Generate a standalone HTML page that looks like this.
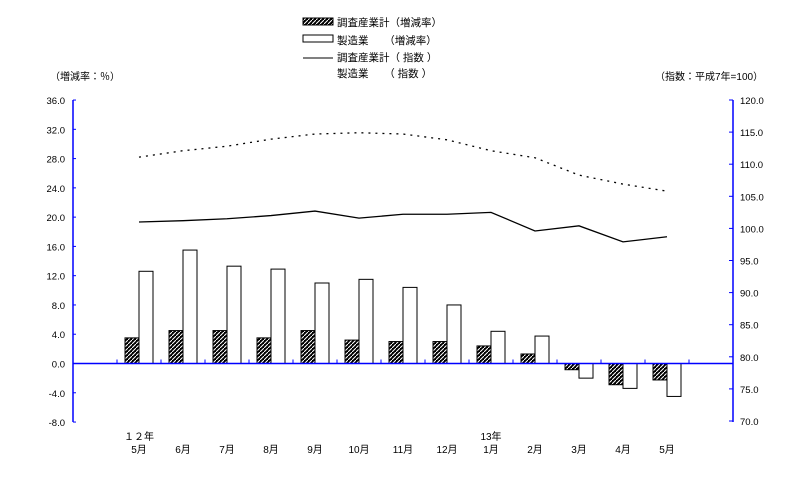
<!DOCTYPE html>
<html><head><meta charset="utf-8">
<style>
body{margin:0;background:#fff;}
svg text{font-family:"Liberation Sans","Noto Sans CJK JP",sans-serif;fill:#000;}
</style></head>
<body>
<svg width="797" height="486" viewBox="0 0 797 486" xmlns="http://www.w3.org/2000/svg">
<defs>
<pattern id="hatch" patternUnits="userSpaceOnUse" width="4" height="4">
<rect width="4" height="4" fill="#000"/>
<path d="M-1,5 L5,-1" stroke="#fff" stroke-width="1"/>
</pattern>
</defs>
<g id="legend" font-size="10.5">
<g><rect x="303" y="18" width="30" height="7" fill="url(#hatch)" stroke="#000"/><text x="337" y="26">調査産業計（増減率）</text></g>
<g><rect x="303" y="35" width="30" height="7" fill="#fff" stroke="#000"/><text x="337" y="44">製造業　　（増減率）</text></g>
<g><line x1="303" y1="58" x2="333" y2="58" stroke="#000"/><text x="337" y="61">調査産業計（ 指数 ）</text></g>
<g><text x="337" y="77">製造業　　（ 指数 ）</text></g>
</g>
<text x="50" y="80" font-size="10">（増減率：％）</text>
<text x="655" y="80" font-size="10">（指数：平成7年=100）</text>
<g id="plot"></g>
</svg>
<script>
const months=["5月","6月","7月","8月","9月","10月","11月","12月","1月","2月","3月","4月","5月"];
const allRate=[3.5,4.5,4.5,3.5,4.5,3.2,3.0,3.0,2.4,1.3,-0.85,-2.9,-2.25];
const mfgRate=[12.6,15.5,13.3,12.9,11.0,11.5,10.4,8.0,4.4,3.75,-2.0,-3.4,-4.5];
const allIndex=[101.0,101.2,101.5,102.0,102.7,101.6,102.2,102.2,102.5,99.6,100.4,97.9,98.7];
const mfgIndex=[111.1,112.1,112.8,113.9,114.7,114.9,114.7,113.8,112.1,111.0,108.3,106.9,105.8];
const leftTicks=[36,32,28,24,20,16,12,8,4,0,-4,-8];
const rightTicks=[120,115,110,105,100,95,90,85,80,75,70];
const yearLabels=[[0,"１２年"],[8,"13年"]];

const NS="http://www.w3.org/2000/svg";
const g=document.getElementById('plot');
const X0=73,X1=733,slot=44;
const yL=v=>363.5-(v)*(322/44);
const yR=v=>421-(v-70)*(321/50);
const xC=i=>X0+slot*(i+1.5);
function mk(t,a,p){const e=document.createElementNS(NS,t);for(const k in a)e.setAttribute(k,a[k]);(p||g).appendChild(e);return e;}

// axes
let e=mk('line',{x1:X0,y1:100,x2:X0,y2:422,stroke:'#00f','stroke-width':1.5});


e=mk('line',{x1:X1,y1:100,x2:X1,y2:422,stroke:'#00f','stroke-width':1.5});


leftTicks.forEach(v=>{
  mk('line',{x1:X0,y1:yL(v),x2:X0+3,y2:yL(v),stroke:'#00f'});
  const t=mk('text',{x:65,y:yL(v)+4,'text-anchor':'end','font-size':9.5});
  t.textContent=v.toFixed(1);
  
  
});
rightTicks.forEach(v=>{
  mk('line',{x1:X1-4,y1:yR(v),x2:X1,y2:yR(v),stroke:'#00f'});
  const t=mk('text',{x:740,y:yR(v)+4,'font-size':9.5});
  t.textContent=v.toFixed(1);
  
  
});
// bars
months.forEach((m,i)=>{
  const c=xC(i);
  let v=allRate[i];
  let b=mk('rect',{x:c-14,y:Math.min(yL(v),yL(0)),width:14,height:Math.abs(yL(v)-yL(0)),fill:'url(#hatch)',stroke:'#000'});
  
  
  v=mfgRate[i];
  b=mk('rect',{x:c,y:Math.min(yL(v),yL(0)),width:14,height:Math.abs(yL(v)-yL(0)),fill:'#fff',stroke:'#000'});
  
  
  const t=mk('text',{x:c,y:453,'text-anchor':'middle','font-size':10});
  t.textContent=m;
  
  
});
yearLabels.forEach(([i,s])=>{
  const t=mk('text',{x:xC(i),y:440,'text-anchor':'middle','font-size':10});
  t.textContent=s;
  
  
});
// x axis
e=mk('line',{x1:X0,y1:yL(0),x2:X1,y2:yL(0),stroke:'#00f','stroke-width':1.5});


for(let k=1;k<=14;k++){mk('line',{x1:X0+slot*k,y1:yL(0)-4,x2:X0+slot*k,y2:yL(0),stroke:'#00f'});}
// lines
let p=mk('polyline',{points:allIndex.map((v,i)=>xC(i)+','+yR(v)).join(' '),fill:'none',stroke:'#000','stroke-width':1.3});


p=mk('polyline',{points:mfgIndex.map((v,i)=>xC(i)+','+yR(v)).join(' '),fill:'none',stroke:'#000','stroke-width':1.3,'stroke-dasharray':'2,5'});


</script>
</body></html>
